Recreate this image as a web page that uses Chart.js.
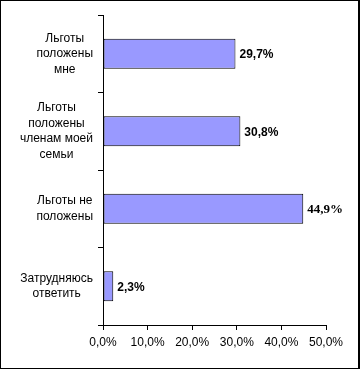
<!DOCTYPE html>
<html>
<head>
<meta charset="utf-8">
<script src="https://cdn.jsdelivr.net/npm/chart.js@4"></script>
<style>
html,body{margin:0;padding:0;background:#fff;}
#wrap{width:360px;height:369px;position:relative;}
</style>
</head>
<body>
<div id="wrap"><canvas id="c" width="360" height="369"></canvas></div>
<script>
const categories = [
  ["Льготы", "положены", "мне"],
  ["Льготы", "положены", "членам моей", "семьи"],
  ["Льготы не", "положены"],
  ["Затрудняюсь", "ответить"]
];
const values = [29.7, 30.8, 44.9, 2.3];
const valueLabels = ["29,7%", "30,8%", "44,9%", "2,3%"];
const xTicks = [0, 10, 20, 30, 40, 50];

const fmt = v => v.toFixed(1).replace('.', ',') + '%';
const sans = '"Liberation Sans", Arial, sans-serif';

const framePlugin = {
  id: 'frame',
  afterDraw(chart) {
    const ctx = chart.ctx;
    ctx.save();
    ctx.fillStyle = '#000';
    ctx.fillRect(0, 0, 360, 1);
    ctx.fillRect(0, 0, 1, 369);
    ctx.fillRect(358, 0, 2, 369);
    ctx.fillRect(0, 368, 360, 1);
    ctx.restore();
  }
};

const catLabelPlugin = {
  id: 'catLabels',
  afterDraw(chart) {
    const ctx = chart.ctx;
    const y = chart.scales.y;
    ctx.save();
    ctx.font = '12px ' + sans;
    ctx.fillStyle = '#000';
    ctx.textAlign = 'center';
    ctx.textBaseline = 'middle';
    const lh = 15.5;
    const right = 93;
    categories.forEach((lines, i) => {
      const cy = y.getPixelForValue(i);
      const w = Math.max(...lines.map(l => ctx.measureText(l).width));
      const cx = right - w / 2;
      const y0 = cy - (lines.length - 1) * lh / 2;
      lines.forEach((l, j) => ctx.fillText(l, cx, y0 + j * lh));
    });
    ctx.restore();
  }
};

const valueLabelPlugin = {
  id: 'valLabels',
  afterDatasetsDraw(chart) {
    const ctx = chart.ctx;
    const meta = chart.getDatasetMeta(0);
    ctx.save();
    ctx.fillStyle = '#000';
    ctx.textAlign = 'left';
    ctx.textBaseline = 'middle';
    meta.data.forEach((bar, i) => {
      ctx.font = (i === 2 ? 'bold 13px "Liberation Serif", serif' : 'bold 12px ' + sans);
      ctx.fillText(valueLabels[i], bar.x + 4, bar.y + 1);
    });
    ctx.restore();
  }
};

new Chart(document.getElementById('c'), {
  type: 'bar',
  data: {
    labels: categories.map(c => c.join(' ')),
    datasets: [{
      data: values,
      backgroundColor: '#9999FF',
      borderColor: '#000',
      borderWidth: 1,
      borderSkipped: false,
      categoryPercentage: 0.39,
      barPercentage: 1
    }]
  },
  options: {
    indexAxis: 'y',
    responsive: false,
    animation: false,
    events: [],
    layout: { padding: { top: 15, right: 34, left: 0, bottom: 0 } },
    plugins: { legend: { display: false }, tooltip: { enabled: false } },
    scales: {
      x: {
        min: 0, max: 50,
        afterBuildTicks: s => { s.ticks = xTicks.map(v => ({ value: v })); },
        afterFit: s => { s.height = 44; },
        grid: { drawOnChartArea: false, drawTicks: true, tickLength: 5, color: '#000', tickColor: '#000' },
        border: { display: true, color: '#000', width: 1 },
        ticks: {
          callback: v => fmt(v),
          color: '#000',
          font: { family: sans, size: 12 },
          padding: 5,
          maxRotation: 0,
          autoSkip: false
        }
      },
      y: {
        afterFit: s => { s.width = 103; },
        grid: { drawOnChartArea: false, drawTicks: true, tickLength: 5, color: '#000', tickColor: '#000', offset: true },
        border: { display: true, color: '#000', width: 1 },
        ticks: { display: false }
      }
    }
  },
  plugins: [framePlugin, catLabelPlugin, valueLabelPlugin]
});
</script>
</body>
</html>
